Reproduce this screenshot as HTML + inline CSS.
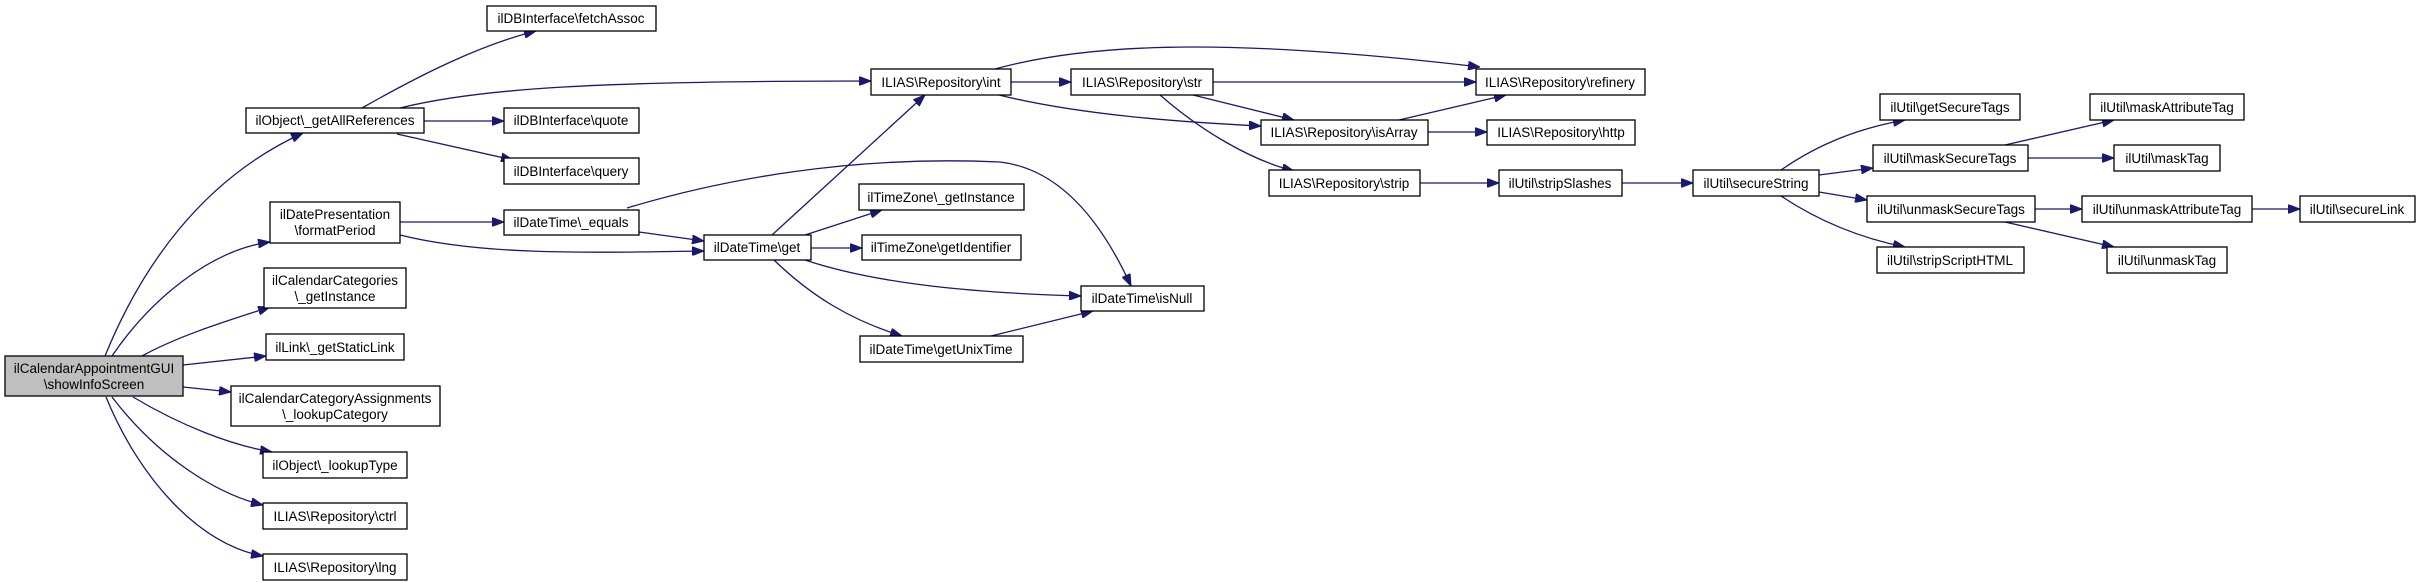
<!DOCTYPE html>
<html><head><meta charset="utf-8"><style>
html,body{margin:0;padding:0;background:#fff;}
svg{display:block;}
text{font-family:"Liberation Sans",Arial,sans-serif;font-size:13.5px;fill:#000;text-anchor:middle;}
.n{fill:#fff;stroke:#000;stroke-width:1.3;}
.e{fill:none;stroke:#191970;stroke-width:1.3;marker-end:url(#a);}
</style></head><body>
<svg width="2420" height="583" viewBox="0 0 2420 583" xmlns="http://www.w3.org/2000/svg">
<defs><marker id="a" markerUnits="userSpaceOnUse" markerWidth="12" markerHeight="9" refX="12" refY="4.5" orient="auto"><path d="M0,0 L12,4.5 L0,9 z" fill="#191970" stroke="#191970"/></marker></defs>

<!-- edges -->
<path class="e" d="M105,356 C140,270 200,180 303,133"/>
<path class="e" d="M112,356 C150,300 210,250 270,242"/>
<path class="e" d="M142,356 C180,335 230,320 270,307"/>
<path class="e" d="M183,365 L266,356"/>
<path class="e" d="M183,387 L231,392"/>
<path class="e" d="M133,397 C180,425 230,445 272,452"/>
<path class="e" d="M112,397 C160,460 220,495 263,505"/>
<path class="e" d="M106,397 C140,480 200,545 263,556"/>

<path class="e" d="M362,108 C420,75 480,45 536,31"/>
<path class="e" d="M400,108 C480,88 600,81 871,81"/>
<path class="e" d="M424,121 L504,121"/>
<path class="e" d="M397,134 L513,160"/>

<path class="e" d="M400,222 L504,222"/>
<path class="e" d="M400,235 C480,255 580,253 704,251"/>
<path class="e" d="M639,232 L704,241"/>
<path class="e" d="M627,208 C720,180 850,155 1000,162 C1070,170 1110,240 1131,286"/>

<path class="e" d="M772,235 L925,95"/>
<path class="e" d="M805,235 L882,210"/>
<path class="e" d="M811,248 L862,248"/>
<path class="e" d="M805,260 C880,285 980,293 1081,296"/>
<path class="e" d="M774,260 C810,295 850,320 902,336"/>
<path class="e" d="M991,336 L1093,311"/>

<path class="e" d="M1011,82 L1071,82"/>
<path class="e" d="M995,69 C1100,40 1250,40 1480,67"/>
<path class="e" d="M999,95 C1080,115 1180,122 1261,126"/>
<path class="e" d="M1213,82 L1476,82"/>
<path class="e" d="M1193,95 L1294,120"/>
<path class="e" d="M1160,95 C1200,130 1250,160 1294,171"/>
<path class="e" d="M1399,120 L1506,95"/>
<path class="e" d="M1428,132 L1487,132"/>
<path class="e" d="M1420,183 L1499,183"/>
<path class="e" d="M1622,183 L1693,183"/>

<path class="e" d="M1781,170 C1820,143 1860,128 1905,120"/>
<path class="e" d="M1819,175 L1873,168"/>
<path class="e" d="M1819,192 L1867,200"/>
<path class="e" d="M1781,196 C1820,222 1860,238 1905,247"/>
<path class="e" d="M2005,145 L2114,120"/>
<path class="e" d="M2028,158 L2114,158"/>
<path class="e" d="M2035,209 L2082,209"/>
<path class="e" d="M2005,222 L2114,247"/>
<path class="e" d="M2252,209 L2300,209"/>

<!-- nodes -->
<rect x="5" y="356" width="178" height="40" fill="#bfbfbf" stroke="#000" stroke-width="1.3"/>
<text x="94" y="373">ilCalendarAppointmentGUI</text><text x="94" y="389">\showInfoScreen</text>

<rect class="n" x="487" y="6" width="169" height="25"/><text x="571" y="23">ilDBInterface\fetchAssoc</text>
<rect class="n" x="246" y="108" width="178" height="25"/><text x="335" y="125">ilObject\_getAllReferences</text>
<rect class="n" x="504" y="108" width="135" height="25"/><text x="571" y="125">ilDBInterface\quote</text>
<rect class="n" x="504" y="158" width="135" height="26"/><text x="571" y="176">ilDBInterface\query</text>
<rect class="n" x="270" y="202" width="130" height="41"/><text x="335" y="219">ilDatePresentation</text><text x="335" y="235">\formatPeriod</text>
<rect class="n" x="504" y="210" width="135" height="25"/><text x="571" y="227">ilDateTime\_equals</text>
<rect class="n" x="704" y="235" width="107" height="25"/><text x="757" y="252">ilDateTime\get</text>
<rect class="n" x="264" y="268" width="142" height="40"/><text x="335" y="285">ilCalendarCategories</text><text x="335" y="301">\_getInstance</text>
<rect class="n" x="266" y="334" width="138" height="26"/><text x="335" y="352">ilLink\_getStaticLink</text>
<rect class="n" x="231" y="386" width="209" height="40"/><text x="335" y="403">ilCalendarCategoryAssignments</text><text x="335" y="419">\_lookupCategory</text>
<rect class="n" x="263" y="452" width="144" height="26"/><text x="335" y="470">ilObject\_lookupType</text>
<rect class="n" x="263" y="503" width="144" height="26"/><text x="335" y="521">ILIAS\Repository\ctrl</text>
<rect class="n" x="263" y="554" width="144" height="26"/><text x="335" y="572">ILIAS\Repository\lng</text>

<rect class="n" x="871" y="69" width="140" height="26"/><text x="941" y="87">ILIAS\Repository\int</text>
<rect class="n" x="1071" y="69" width="142" height="26"/><text x="1142" y="87">ILIAS\Repository\str</text>
<rect class="n" x="1476" y="69" width="169" height="26"/><text x="1560" y="87">ILIAS\Repository\refinery</text>
<rect class="n" x="1261" y="120" width="167" height="25"/><text x="1344" y="137">ILIAS\Repository\isArray</text>
<rect class="n" x="1487" y="120" width="148" height="25"/><text x="1561" y="137">ILIAS\Repository\http</text>
<rect class="n" x="1269" y="170" width="151" height="26"/><text x="1344" y="188">ILIAS\Repository\strip</text>
<rect class="n" x="1499" y="170" width="123" height="26"/><text x="1560" y="188">ilUtil\stripSlashes</text>
<rect class="n" x="859" y="184" width="165" height="26"/><text x="941" y="202">ilTimeZone\_getInstance</text>
<rect class="n" x="862" y="235" width="159" height="25"/><text x="941" y="252">ilTimeZone\getIdentifier</text>
<rect class="n" x="1081" y="286" width="123" height="25"/><text x="1142" y="303">ilDateTime\isNull</text>
<rect class="n" x="860" y="336" width="163" height="26"/><text x="941" y="354">ilDateTime\getUnixTime</text>

<rect class="n" x="1693" y="170" width="126" height="26"/><text x="1756" y="188">ilUtil\secureString</text>
<rect class="n" x="1880" y="94" width="140" height="26"/><text x="1950" y="112">ilUtil\getSecureTags</text>
<rect class="n" x="1873" y="145" width="155" height="26"/><text x="1950" y="163">ilUtil\maskSecureTags</text>
<rect class="n" x="1867" y="196" width="168" height="26"/><text x="1951" y="214">ilUtil\unmaskSecureTags</text>
<rect class="n" x="1877" y="247" width="147" height="26"/><text x="1950" y="265">ilUtil\stripScriptHTML</text>
<rect class="n" x="2090" y="94" width="154" height="26"/><text x="2167" y="112">ilUtil\maskAttributeTag</text>
<rect class="n" x="2114" y="145" width="106" height="26"/><text x="2167" y="163">ilUtil\maskTag</text>
<rect class="n" x="2082" y="196" width="170" height="26"/><text x="2167" y="214">ilUtil\unmaskAttributeTag</text>
<rect class="n" x="2107" y="247" width="120" height="26"/><text x="2167" y="265">ilUtil\unmaskTag</text>
<rect class="n" x="2300" y="196" width="115" height="26"/><text x="2357" y="214">ilUtil\secureLink</text>
</svg>
</body></html>
